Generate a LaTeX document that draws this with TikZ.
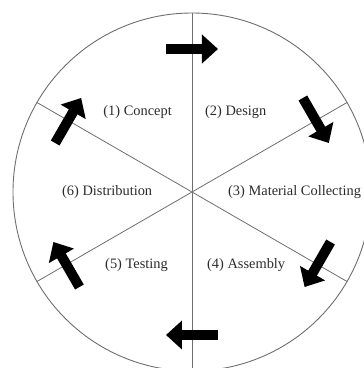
\documentclass[tikz,border=0pt]{standalone}
\usepackage{fontspec}
\setmainfont{Liberation Serif}
\usepackage{tikz}
\usetikzlibrary{arrows.meta,calc}
\definecolor{lc}{HTML}{6E6E6E}
\definecolor{tc}{HTML}{2B2B2B}

\begin{document}
\begin{tikzpicture}[
    x=1pt, y=1pt,
    rim/.style={draw=lc, line width=0.9pt},
    spoke/.style={draw=lc, line width=0.8pt},
    lab/.style={font=\fontsize{14.4}{16}\selectfont, text=tc, inner sep=0pt},
    flow/.style={line width=10pt, draw=black,
                 -{Triangle[length=16pt, width=28pt]}}
]
\useasboundingbox (-192,-176) rectangle (172,192);
\clip (-192,-176) rectangle (172,192);

% wheel
\coordinate (c) at (0,0);
\draw[rim] (c) circle[radius=179pt];
\coordinate (s90)  at (90:179);
\coordinate (s270) at (270:179);
\coordinate (s30)  at (30:179);
\coordinate (s210) at (210:179);
\coordinate (s150) at (150:179);
\coordinate (s330) at (330:179);
\draw[spoke] (s90)  -- (s270);
\draw[spoke] (s30)  -- (s210);
\draw[spoke] (s150) -- (s330);

% stages
\node[lab, anchor=east] (concept) at (-20,80)  {(1) Concept};
\node[lab, anchor=west] (design)  at (13,80)   {(2) Design};
\node[lab, anchor=west] (matcol)  at (36,0)    {(3) Material Collecting};
\node[lab, anchor=west] (assem)   at (15,-73)  {(4) Assembly};
\node[lab, anchor=east] (test)    at (-24,-73) {(5) Testing};
\node[lab, anchor=west] (distr)   at (-130,0)  {(6) Distribution};

% clockwise arrows on the spokes
\coordinate (a1t) at ($(90:143)+(180:26)$);  \coordinate (a1h) at ($(90:143)+(0:26)$);
\coordinate (a2t) at ($(30:143)+(120:26)$);  \coordinate (a2h) at ($(30:143)+(-60:26)$);
\coordinate (a3t) at ($(-30:145)+(60:26)$);  \coordinate (a3h) at ($(-30:145)+(-120:26)$);
\coordinate (a4t) at ($(-90:143)+(0:26)$);   \coordinate (a4h) at ($(-90:143)+(180:26)$);
\coordinate (a5t) at ($(-150:145)+(-60:26)$); \coordinate (a5h) at ($(-150:145)+(120:26)$);
\coordinate (a6t) at ($(150:143)+(-120:26)$); \coordinate (a6h) at ($(150:143)+(60:26)$);
\draw[flow] (a1t) -- (a1h);
\draw[flow] (a2t) -- (a2h);
\draw[flow] (a3t) -- (a3h);
\draw[flow] (a4t) -- (a4h);
\draw[flow] (a5t) -- (a5h);
\draw[flow] (a6t) -- (a6h);
\end{tikzpicture}
\end{document}
